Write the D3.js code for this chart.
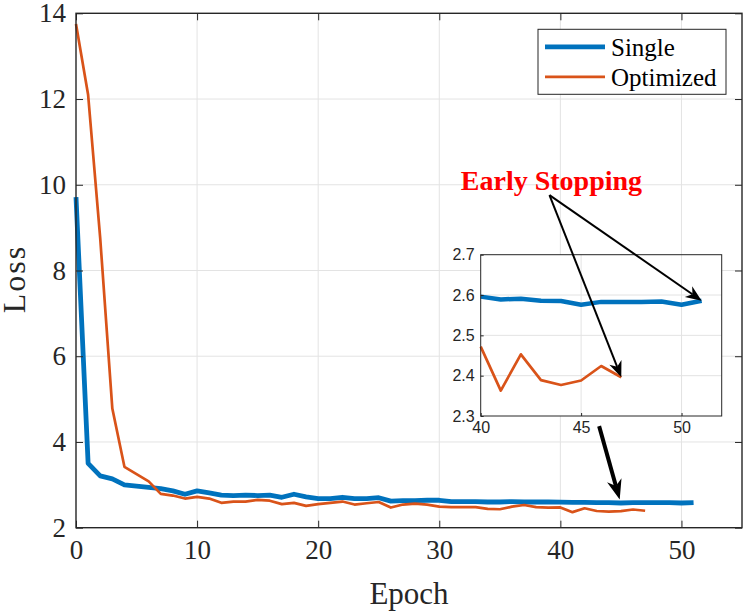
<!DOCTYPE html>
<html>
<head>
<meta charset="utf-8">
<script src="https://cdn.jsdelivr.net/npm/d3@7"></script>
<style>
  body { margin: 0; background: #fff; }
  svg { display: block; }
</style>
</head>
<body>
<div id="chart"></div>
<script>
// -------- Data --------
const epochsSingle = d3.range(0, 52);
const lossSingle = [9.71, 3.50, 3.21, 3.14, 3.00, 2.97, 2.94, 2.91, 2.86, 2.78,
  2.86, 2.81, 2.76, 2.75, 2.76, 2.75, 2.76, 2.71, 2.78, 2.72,
  2.68, 2.68, 2.71, 2.68, 2.68, 2.70, 2.62, 2.63, 2.63, 2.64,
  2.64, 2.61, 2.61, 2.61, 2.60, 2.60, 2.61, 2.60, 2.60, 2.60,
  2.596, 2.589, 2.591, 2.586, 2.585, 2.576, 2.583, 2.583, 2.583, 2.584,
  2.576, 2.586];

const epochsOptimized = d3.range(0, 48);
const lossOptimized = [13.75, 12.1, 8.75, 4.78, 3.42, 3.25, 3.08, 2.79, 2.75, 2.68,
  2.72, 2.68, 2.58, 2.61, 2.61, 2.65, 2.63, 2.55, 2.58, 2.51,
  2.55, 2.58, 2.61, 2.54, 2.57, 2.60, 2.47, 2.54, 2.56, 2.54,
  2.49, 2.48, 2.48, 2.48, 2.44, 2.43, 2.49, 2.53, 2.48, 2.47,
  2.472, 2.363, 2.453, 2.389, 2.377, 2.388, 2.424, 2.396];

const seriesNames = ['Single', 'Optimized'];
const xTicks = [0, 10, 20, 30, 40, 50];
const yTicks = [2, 4, 6, 8, 10, 12, 14];
const insetXTicks = [40, 45, 50];
const insetYTicks = [2.3, 2.4, 2.5, 2.6, 2.7];

// annotation anchors (main axis data units)
const noteText = 'Early Stopping';
const noteOrigin = [39.1, 9.76];
const zoomArrow = [[43.2, 4.37], [44.9, 2.66]];

const BLUE = '#0072BD';
const ORANGE = '#D95319';
const AXIS = '#262626';
const GRID = '#e3e3e3';
const SERIF = '"Liberation Serif", "Times New Roman", serif';
const SANS = '"Liberation Sans", Arial, Helvetica, sans-serif';

const width = 748, height = 616;
const svg = d3.select('#chart').append('svg')
  .attr('width', width).attr('height', height);

// -------- Main scales --------
const x = d3.scaleLinear().domain([0, 55]).range([76, 742]);
const y = d3.scaleLinear().domain([2, 14]).range([527.7, 13.3]);

const main = svg.append('g');

// grid
main.append('g').selectAll('line').data(xTicks.slice(1))
  .join('line')
  .attr('x1', d => x(d)).attr('x2', d => x(d))
  .attr('y1', y(2)).attr('y2', y(14))
  .attr('stroke', GRID).attr('stroke-width', 1);
main.append('g').selectAll('line').data(yTicks.slice(1, -1))
  .join('line')
  .attr('x1', x(0)).attr('x2', x(55))
  .attr('y1', d => y(d)).attr('y2', d => y(d))
  .attr('stroke', GRID).attr('stroke-width', 1);

// -------- Lines --------
const line = d3.line().x(d => x(d[0])).y(d => y(d[1]));
main.append('path')
  .datum(d3.zip(epochsSingle, lossSingle))
  .attr('d', line)
  .attr('fill', 'none').attr('stroke', BLUE).attr('stroke-width', 4.8)
  .attr('stroke-linejoin', 'round');
main.append('path')
  .datum(d3.zip(epochsOptimized, lossOptimized))
  .attr('d', line)
  .attr('fill', 'none').attr('stroke', ORANGE).attr('stroke-width', 2.7)
  .attr('stroke-linejoin', 'round');

// -------- Axes (box with inner ticks) --------
const tickLen = 7;
const styleTicks = (g, font, size) => g.selectAll('text')
  .style('font-family', font).style('font-size', size + 'px').attr('fill', AXIS);

main.append('g')
  .attr('transform', `translate(0,${y(2)})`)
  .call(d3.axisBottom(x).tickValues(xTicks).tickSizeInner(-tickLen).tickSizeOuter(0).tickPadding(12))
  .call(g => g.select('.domain').remove())
  .call(g => styleTicks(g, SERIF, 27))
  .call(g => g.selectAll('line').attr('stroke', AXIS));
main.append('g')
  .attr('transform', `translate(${x(0)},0)`)
  .call(d3.axisLeft(y).tickValues(yTicks).tickSizeInner(-tickLen).tickSizeOuter(0).tickPadding(10))
  .call(g => g.select('.domain').remove())
  .call(g => styleTicks(g, SERIF, 27))
  .call(g => g.selectAll('line').attr('stroke', AXIS));
main.append('g')
  .attr('transform', `translate(0,${y(14)})`)
  .call(d3.axisTop(x).tickValues(xTicks).tickSizeInner(-tickLen).tickSizeOuter(0).tickFormat(''))
  .call(g => g.select('.domain').remove())
  .call(g => g.selectAll('line').attr('stroke', AXIS));
main.append('g')
  .attr('transform', `translate(${x(55)},0)`)
  .call(d3.axisRight(y).tickValues(yTicks).tickSizeInner(-tickLen).tickSizeOuter(0).tickFormat(''))
  .call(g => g.select('.domain').remove())
  .call(g => g.selectAll('line').attr('stroke', AXIS));
main.append('rect')
  .attr('x', x(0)).attr('y', y(14))
  .attr('width', x(55) - x(0)).attr('height', y(2) - y(14))
  .attr('fill', 'none').attr('stroke', AXIS).attr('stroke-width', 1.4);

// axis labels
svg.append('text')
  .attr('x', (x(0) + x(55)) / 2).attr('y', 604)
  .attr('text-anchor', 'middle')
  .style('font-family', SERIF).style('font-size', '31px').attr('fill', AXIS)
  .text('Epoch');
svg.append('text')
  .attr('transform', `translate(25,279) rotate(-90)`)
  .attr('text-anchor', 'middle')
  .style('font-family', SERIF).style('font-size', '32px').style('letter-spacing', '2px')
  .attr('fill', AXIS)
  .text('Loss');

// -------- Legend --------
const lg = svg.append('g').attr('transform', `translate(${x(55) - 204},${y(14) + 16})`);
lg.append('rect')
  .attr('width', 188).attr('height', 65)
  .attr('fill', '#fff').attr('stroke', AXIS).attr('stroke-width', 1);
[BLUE, ORANGE].forEach((c, i) => {
  const ly = 17.5 + i * 30;
  lg.append('line')
    .attr('x1', 7).attr('x2', 67).attr('y1', ly).attr('y2', ly)
    .attr('stroke', c).attr('stroke-width', i === 0 ? 4.8 : 2.7);
  lg.append('text')
    .attr('x', 73).attr('y', ly).attr('dy', '0.35em')
    .style('font-family', SERIF).style('font-size', '25px').attr('fill', '#000')
    .text(seriesNames[i]);
});

// -------- Inset --------
const xi = d3.scaleLinear().domain([40, 52]).range([480.7, 721.7]);
const yi = d3.scaleLinear().domain([2.3, 2.7]).range([416, 254.7]);
const inset = svg.append('g');

inset.append('rect')
  .attr('x', xi(40)).attr('y', yi(2.7))
  .attr('width', xi(52) - xi(40)).attr('height', yi(2.3) - yi(2.7))
  .attr('fill', '#fff');
inset.append('g').selectAll('line').data(insetXTicks.slice(1))
  .join('line')
  .attr('x1', d => xi(d)).attr('x2', d => xi(d))
  .attr('y1', yi(2.3)).attr('y2', yi(2.7))
  .attr('stroke', GRID);
inset.append('g').selectAll('line').data(insetYTicks.slice(1, -1))
  .join('line')
  .attr('x1', xi(40)).attr('x2', xi(52))
  .attr('y1', d => yi(d)).attr('y2', d => yi(d))
  .attr('stroke', GRID);

const lineInset = d3.line().x(d => xi(d[0])).y(d => yi(d[1]));
inset.append('path')
  .datum(d3.zip(epochsSingle, lossSingle).filter(d => d[0] >= 40))
  .attr('d', lineInset)
  .attr('fill', 'none').attr('stroke', BLUE).attr('stroke-width', 4.5)
  .attr('stroke-linejoin', 'round');
inset.append('path')
  .datum(d3.zip(epochsOptimized, lossOptimized).filter(d => d[0] >= 40))
  .attr('d', lineInset)
  .attr('fill', 'none').attr('stroke', ORANGE).attr('stroke-width', 2.7)
  .attr('stroke-linejoin', 'round');

const insetTick = 3;
inset.append('g')
  .attr('transform', `translate(0,${yi(2.3)})`)
  .call(d3.axisBottom(xi).tickValues(insetXTicks).tickSizeInner(-insetTick).tickSizeOuter(0).tickPadding(6))
  .call(g => g.select('.domain').remove())
  .call(g => styleTicks(g, SANS, 16))
  .call(g => g.selectAll('line').attr('stroke', AXIS));
inset.append('g')
  .attr('transform', `translate(${xi(40)},0)`)
  .call(d3.axisLeft(yi).tickValues(insetYTicks).tickFormat(d3.format('.1f')).tickSizeInner(-insetTick).tickSizeOuter(0).tickPadding(6))
  .call(g => g.select('.domain').remove())
  .call(g => styleTicks(g, SANS, 16))
  .call(g => g.selectAll('line').attr('stroke', AXIS));
inset.append('rect')
  .attr('x', xi(40)).attr('y', yi(2.7))
  .attr('width', xi(52) - xi(40)).attr('height', yi(2.3) - yi(2.7))
  .attr('fill', 'none').attr('stroke', AXIS).attr('stroke-width', 1);

// -------- Annotations --------
function drawArrow(p0, p1, w, headLen, headW) {
  const [x0, y0] = p0, [x1, y1] = p1;
  const ang = Math.atan2(y1 - y0, x1 - x0);
  const ux = Math.cos(ang), uy = Math.sin(ang);
  const nx = -uy, ny = ux;
  const bx = x1 - ux * headLen, by = y1 - uy * headLen;
  const ix = x1 - ux * headLen * 0.7, iy = y1 - uy * headLen * 0.7;
  svg.append('line')
    .attr('x1', x0).attr('y1', y0).attr('x2', ix).attr('y2', iy)
    .attr('stroke', '#000').attr('stroke-width', w);
  svg.append('path')
    .attr('d', `M${x1},${y1}L${bx + nx * headW / 2},${by + ny * headW / 2}L${ix},${iy}L${bx - nx * headW / 2},${by - ny * headW / 2}Z`)
    .attr('fill', '#000');
}

const origin = [x(noteOrigin[0]), y(noteOrigin[1])];
drawArrow(origin, [xi(51), yi(lossSingle[51])], 2, 16, 13);
drawArrow(origin, [xi(47), yi(lossOptimized[47])], 2, 16, 13);
drawArrow([x(zoomArrow[0][0]), y(zoomArrow[0][1])], [x(zoomArrow[1][0]), y(zoomArrow[1][1])], 4, 20, 15);

svg.append('text')
  .attr('x', origin[0] + 2).attr('y', origin[1] - 5)
  .attr('text-anchor', 'middle')
  .style('font-family', SERIF).style('font-weight', 'bold').style('font-size', '28px')
  .attr('fill', '#ff0000')
  .text(noteText);
</script>
</body>
</html>
